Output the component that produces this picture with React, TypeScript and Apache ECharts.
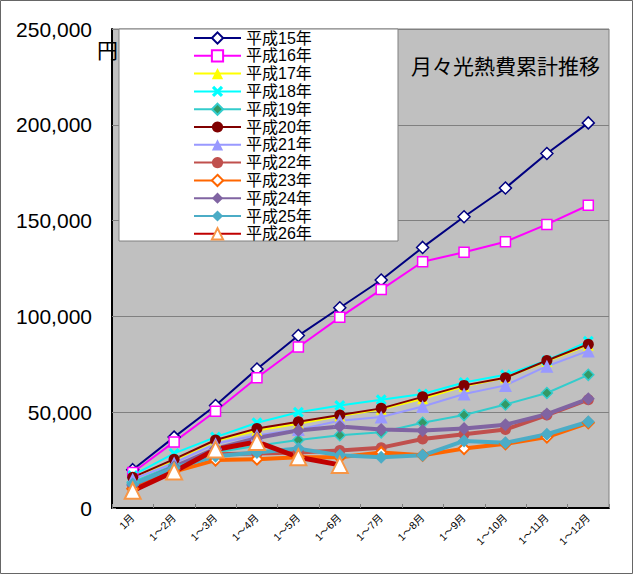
import React, { useEffect, useRef } from "react";
import * as echarts from "echarts";

const months = ["1月", "1～2月", "1～3月", "1～4月", "1～5月", "1～6月", "1～7月", "1～8月", "1～9月", "1～10月", "1～11月", "1～12月"];
const yTicks = [0, 50000, 100000, 150000, 200000, 250000];

const h15 = [20000, 37000, 53500, 72500, 90000, 104500, 119000, 136000, 152000, 167000, 185000, 201000];
const h16 = [18500, 34500, 50500, 68000, 84000, 99500, 114000, 128500, 133500, 139000, 148000, 158000];
const h17 = [16000, 25000, 35000, 40500, 44000, 48000, 51500, 57000, 63500, 68000, 76500, 85000];
const h18 = [17000, 28500, 37000, 44500, 50000, 53500, 56500, 59500, 65500, 69500, 77000, 87000];
const h19 = [13500, 22500, 29000, 32500, 35500, 38000, 39500, 44500, 48500, 54000, 60000, 69500];
const h20 = [16000, 25500, 35500, 41500, 45000, 48500, 52000, 58000, 64000, 68000, 77000, 85500];
const h21 = [15000, 23500, 33500, 38000, 41000, 45500, 47500, 53000, 59500, 64000, 74000, 82000];
const h22 = [11500, 20500, 28000, 28500, 29000, 30000, 31500, 36000, 38500, 41000, 48500, 56500];
const h23 = [10000, 19000, 25000, 25500, 26500, 26500, 29000, 27500, 31000, 33500, 37000, 44500];
const h24 = [12000, 21500, 31000, 36500, 40500, 42500, 41000, 40500, 41500, 43500, 49000, 57000];
const h25 = [12500, 21000, 27000, 29000, 31000, 27500, 26500, 27500, 35000, 34000, 38500, 45000];
const h26 = [9000, 19000, 30500, 34500, 26500, 22500];

const seriesNames = ["平成15年", "平成16年", "平成17年", "平成18年", "平成19年", "平成20年", "平成21年", "平成22年", "平成23年", "平成24年", "平成25年", "平成26年"];

const FONT = '"Liberation Sans", "Noto Sans CJK JP", sans-serif';
const XSYM = "path://M2,0 L5,3 L8,0 L10,2 L7,5 L10,8 L8,10 L5,7 L2,10 L0,8 L3,5 L0,2 Z";

export default function App() {
  const ref = useRef<HTMLDivElement>(null);
  useEffect(() => {
    if (!ref.current) return;
    const chart = echarts.init(ref.current, undefined, { renderer: "svg" });
    const mk = (
      name: string,
      data: number[],
      color: string,
      width: number,
      symbol: string,
      size: number,
      fill: string,
      border: string,
      borderWidth: number
    ) => ({
      name,
      type: "line",
      data,
      symbol,
      symbolSize: size,
      showAllSymbol: true,
      lineStyle: { color, width },
      itemStyle: { color: fill, borderColor: border, borderWidth },
      emphasis: { disabled: true },
    });
    const series = [
      mk(seriesNames[0], h15, "#000080", 2, "diamond", 12, "#FFFFFF", "#000080", 1.5),
      mk(seriesNames[1], h16, "#FF00FF", 2, "rect", 10, "#FFFFFF", "#FF00FF", 1.5),
      mk(seriesNames[2], h17, "#FFFF00", 2, "triangle", 11, "#FFFF00", "#FFFF00", 0),
      mk(seriesNames[3], h18, "#00FFFF", 2, XSYM, 11, "#00FFFF", "#00FFFF", 0),
      mk(seriesNames[4], h19, "#33CCCC", 2, "diamond", 11, "#339966", "#33CCCC", 1.5),
      mk(seriesNames[5], h20, "#800000", 2, "circle", 11, "#800000", "#800000", 0),
      mk(seriesNames[6], h21, "#9999FF", 2, "triangle", 13, "#9999FF", "#9999FF", 0),
      mk(seriesNames[7], h22, "#C0504D", 4, "circle", 11, "#C0504D", "#C0504D", 0),
      mk(seriesNames[8], h23, "#FF6600", 4, "diamond", 11, "#FFFFFF", "#FF6600", 2),
      mk(seriesNames[9], h24, "#8064A2", 4, "diamond", 13, "#8064A2", "#8064A2", 0),
      mk(seriesNames[10], h25, "#4BACC6", 4, "diamond", 13, "#4BACC6", "#4BACC6", 0),
      mk(seriesNames[11], h26, "#C00000", 5, "triangle", 16, "#FFFFFF", "#F79646", 2),
    ];
    const legendText = { fontSize: 16, color: "#000000", fontFamily: FONT, lineHeight: 14 };
    chart.setOption({
      animation: false,
      backgroundColor: "#FFFFFF",
      textStyle: { fontFamily: FONT },
      grid: {
        left: 112,
        right: 31,
        top: 29,
        bottom: 69,
        show: true,
        backgroundColor: "#C0C0C0",
        borderColor: "#808080",
        borderWidth: 1,
      },
      xAxis: {
        type: "category",
        data: months,
        boundaryGap: true,
        axisLine: { show: true, lineStyle: { color: "#000000", width: 2 } },
        axisTick: { show: true, inside: true, length: 4, lineStyle: { color: "#808080" } },
        axisLabel: { rotate: 45, fontSize: 10.5, color: "#000000", fontFamily: FONT, margin: 8 },
        splitLine: { show: false },
      },
      yAxis: {
        type: "value",
        min: yTicks[0],
        max: yTicks[yTicks.length - 1],
        interval: yTicks[1] - yTicks[0],
        axisLine: { show: true, lineStyle: { color: "#000000", width: 2 } },
        axisTick: { show: true, inside: true, length: 4, lineStyle: { color: "#808080" } },
        axisLabel: {
          fontSize: 21,
          color: "#000000",
          fontFamily: FONT,
          margin: 20,
          formatter: (v: number) => v.toLocaleString("en-US"),
        },
        splitLine: { show: true, lineStyle: { color: "#808080", width: 1 } },
      },
      legend: {
        show: true,
        orient: "vertical",
        left: 193,
        top: 30,
        itemWidth: 47,
        itemHeight: 14,
        itemGap: 1.8,
        padding: 0,
        selectedMode: false,
        data: seriesNames.map((n) => ({ name: n, textStyle: legendText })),
        textStyle: legendText,
      },
      graphic: [
        {
          type: "rect",
          z: -1,
          shape: { x: 0.5, y: 0.5, width: 632, height: 573 },
          style: { fill: "none", stroke: "#666666", lineWidth: 1 },
          silent: true,
        },
        {
          type: "rect",
          z: 1,
          shape: { x: 119, y: 29, width: 279, height: 212 },
          style: { fill: "#FFFFFF", stroke: "#808080", lineWidth: 1 },
          silent: true,
        },
        {
          type: "text",
          left: 97,
          top: 40,
          z: 10,
          style: { text: "円", fontSize: 21, fill: "#000000", fontFamily: FONT },
        },
        {
          type: "text",
          left: 411,
          top: 56,
          z: 10,
          style: { text: "月々光熱費累計推移", fontSize: 21, fill: "#000000", fontFamily: FONT },
        },
      ],
      series,
    });
    return () => chart.dispose();
  }, []);
  return (
    <div
      ref={ref}
      style={{ position: "fixed", left: 0, top: 0, width: 640, height: 577 }}
    />
  );
}
